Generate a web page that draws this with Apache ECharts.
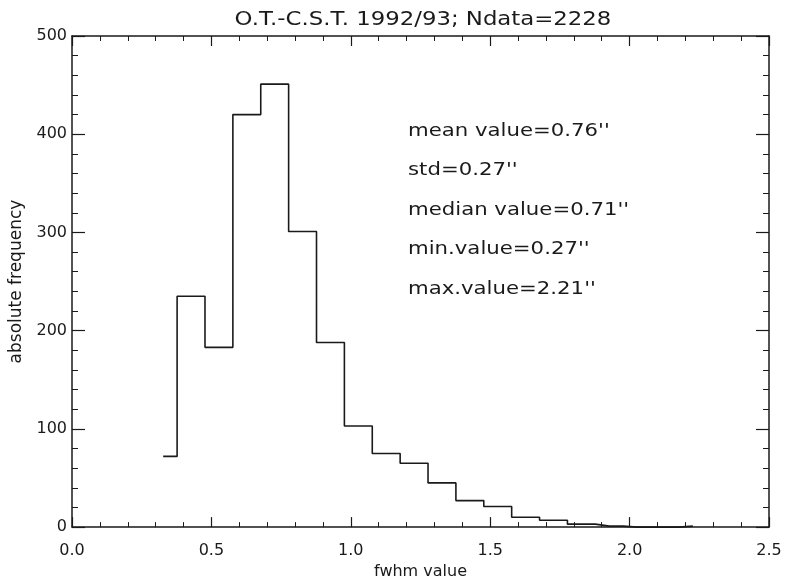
<!DOCTYPE html>
<html>
<head>
<meta charset="utf-8">
<script src="https://cdn.jsdelivr.net/npm/echarts@6/dist/echarts.min.js"></script>
<style>
  html, body { margin: 0; padding: 0; background: #fff; }
  #chart { width: 786px; height: 585px; }
</style>
</head>
<body>
<div id="chart"></div>
<script>
// histogram bin centres (fwhm, arcsec) and counts
var binCenters = [0.327, 0.427, 0.527, 0.627, 0.727, 0.827, 0.927, 1.027, 1.127, 1.227,
  1.327, 1.427, 1.527, 1.627, 1.727, 1.827, 1.927, 2.027, 2.127, 2.227]
var counts = [72, 235, 183, 420, 451, 301, 188, 103, 75, 65,
  45, 27, 21, 10, 7, 3, 1, 0, 0, 1]
var xTicks = [0, 0.5, 1.0, 1.5, 2.0, 2.5]
var yTicks = [0, 100, 200, 300, 400, 500]
var statLines = ["mean value=0.76''", "std=0.27''", "median value=0.71''", "min.value=0.27''", "max.value=2.21''"]
var titleText = 'O.T.-C.S.T. 1992/93; Ndata=2228'

var font = 'DejaVu Sans'
var ink = '#1a1a1a'

var points = []
for (var i = 0; i < binCenters.length; i++) {
  points.push([binCenters[i], counts[i]])
}

function axisBase(showLabels) {
  return {
    axisLine: { show: true, onZero: false, lineStyle: { color: ink, width: 1.5 } },
    axisTick: { show: true, inside: true, length: 10, lineStyle: { color: ink, width: 1.2 } },
    minorTick: { show: true, splitNumber: 5, length: 5, lineStyle: { color: ink, width: 1 } },
    splitLine: { show: false },
    axisLabel: { show: showLabels, color: ink, fontFamily: font, fontSize: 16 }
  }
}

var chart = echarts.init(document.getElementById('chart'))

var xBottom = Object.assign(axisBase(true), {
  type: 'value', position: 'bottom', min: xTicks[0], max: xTicks[xTicks.length - 1], interval: 0.5,
  name: 'fwhm value', nameLocation: 'middle', nameGap: 34,
  nameTextStyle: { color: ink, fontFamily: font, fontSize: 16 }
})
xBottom.axisLabel.margin = 16
xBottom.axisLabel.formatter = function (v) { return v.toFixed(1) }

var xTop = Object.assign(axisBase(false), {
  type: 'value', position: 'top', min: xTicks[0], max: xTicks[xTicks.length - 1], interval: 0.5
})

var yLeft = Object.assign(axisBase(true), {
  type: 'value', position: 'left', min: yTicks[0], max: yTicks[yTicks.length - 1], interval: 100,
  name: 'absolute frequency', nameLocation: 'middle', nameGap: 47,
  nameTextStyle: { color: ink, fontFamily: font, fontSize: 17 }
})
yLeft.axisTick.length = 13
yLeft.minorTick.length = 6
yLeft.axisLabel.margin = 5

var yRight = Object.assign(axisBase(false), {
  type: 'value', position: 'right', min: yTicks[0], max: yTicks[yTicks.length - 1], interval: 100
})
yRight.axisTick.length = 13
yRight.minorTick.length = 6

// the original lettering is wide (vector font), so stretch the text a bit
var graphics = [{
  type: 'text',
  x: 423,
  y: 20,
  scaleX: 1.2,
  style: {
    text: titleText, fill: ink, font: '19px "DejaVu Sans"',
    align: 'center', verticalAlign: 'middle'
  }
}]
for (var k = 0; k < statLines.length; k++) {
  graphics.push({
    type: 'text',
    x: 408,
    y: 131 + k * 39.5,
    scaleX: 1.18,
    style: {
      text: statLines[k], fill: ink, font: '18px "DejaVu Sans"',
      align: 'left', verticalAlign: 'middle'
    }
  })
}

chart.setOption({
  backgroundColor: '#fff',
  animation: false,
  grid: { left: 72, right: 17, top: 36, bottom: 54 },
  xAxis: [xBottom, xTop],
  yAxis: [yLeft, yRight],
  graphic: graphics,
  series: [
    {
      type: 'line',
      step: 'middle',
      data: points,
      showSymbol: false,
      lineStyle: { color: ink, width: 1.6 },
      xAxisIndex: 0,
      yAxisIndex: 0
    }
  ]
})
</script>
</body>
</html>
